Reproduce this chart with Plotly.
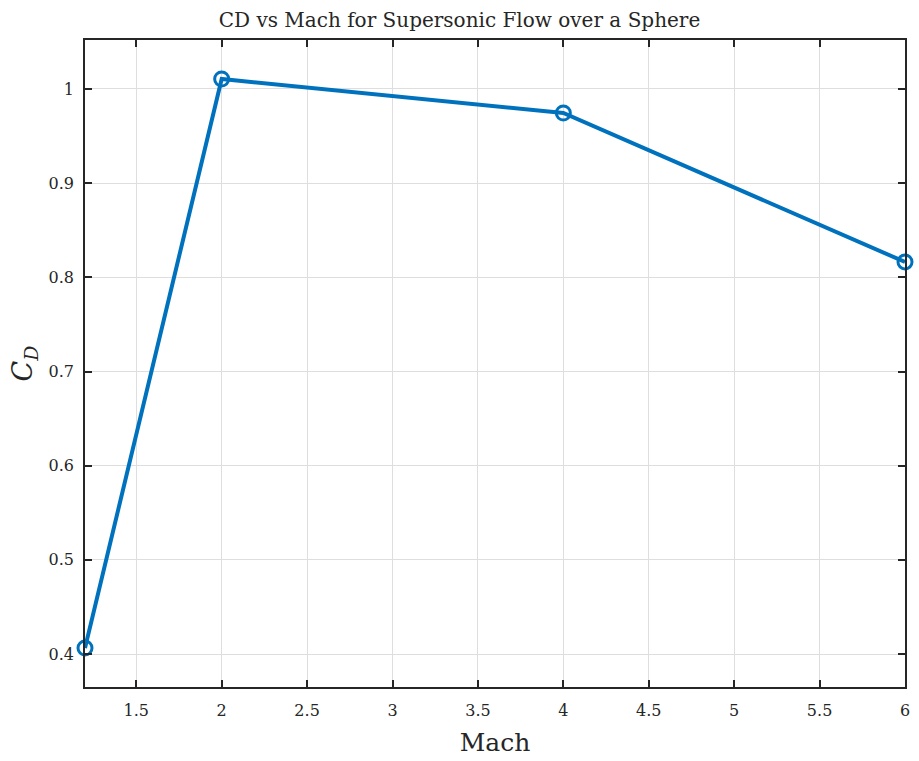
import plotly.graph_objects as go

mach = [1.2, 2, 4, 6]
cd = [0.4064, 1.0106, 0.9745, 0.8163]
x_ticks = [1.5, 2, 2.5, 3, 3.5, 4, 4.5, 5, 5.5, 6]
x_tick_labels = ["1.5", "2", "2.5", "3", "3.5", "4", "4.5", "5", "5.5", "6"]
y_ticks = [0.4, 0.5, 0.6, 0.7, 0.8, 0.9, 1.0]
y_tick_labels = ["0.4", "0.5", "0.6", "0.7", "0.8", "0.9", "1"]

FONT = "DejaVu Serif"
AX = "#262626"

fig = go.Figure()
fig.add_trace(go.Scatter(
    x=mach, y=cd, mode="lines+markers",
    line=dict(color="#0072BD", width=4),
    marker=dict(symbol="circle-open", size=14, color="#0072BD", line=dict(width=3, color="#0072BD")),
    cliponaxis=False, showlegend=False,
))

axis_common = dict(
    showline=True, linecolor=AX, linewidth=1.5, mirror="allticks",
    ticks="inside", ticklen=7, tickwidth=1.5, tickcolor=AX,
    showgrid=True, gridcolor="#dedede", gridwidth=1, zeroline=False,
    tickfont=dict(family=FONT, size=16, color=AX),
)

fig.update_layout(
    width=919, height=761,
    margin=dict(l=85, r=9, t=40, b=74),
    paper_bgcolor="white", plot_bgcolor="white",
    title=dict(text="CD vs Mach for Supersonic Flow over a Sphere", x=0.5, xanchor="center",
               y=1 - 20 / 761, yanchor="middle", font=dict(family=FONT, size=20, color=AX)),
    xaxis=dict(range=[1.2, 6], tickvals=x_ticks, ticktext=x_tick_labels, ticklabelstandoff=8,
               title=dict(text="Mach", font=dict(family=FONT, size=25, color=AX), standoff=15),
               **axis_common),
    yaxis=dict(range=[0.365, 1.052], tickvals=y_ticks, ticktext=y_tick_labels, ticklabelstandoff=6,
               title=dict(text="<i>C</i><sub><i>D</i></sub>", font=dict(family=FONT, size=27, color=AX), standoff=8),
               **axis_common),
)

fig.write_html("out.html")
